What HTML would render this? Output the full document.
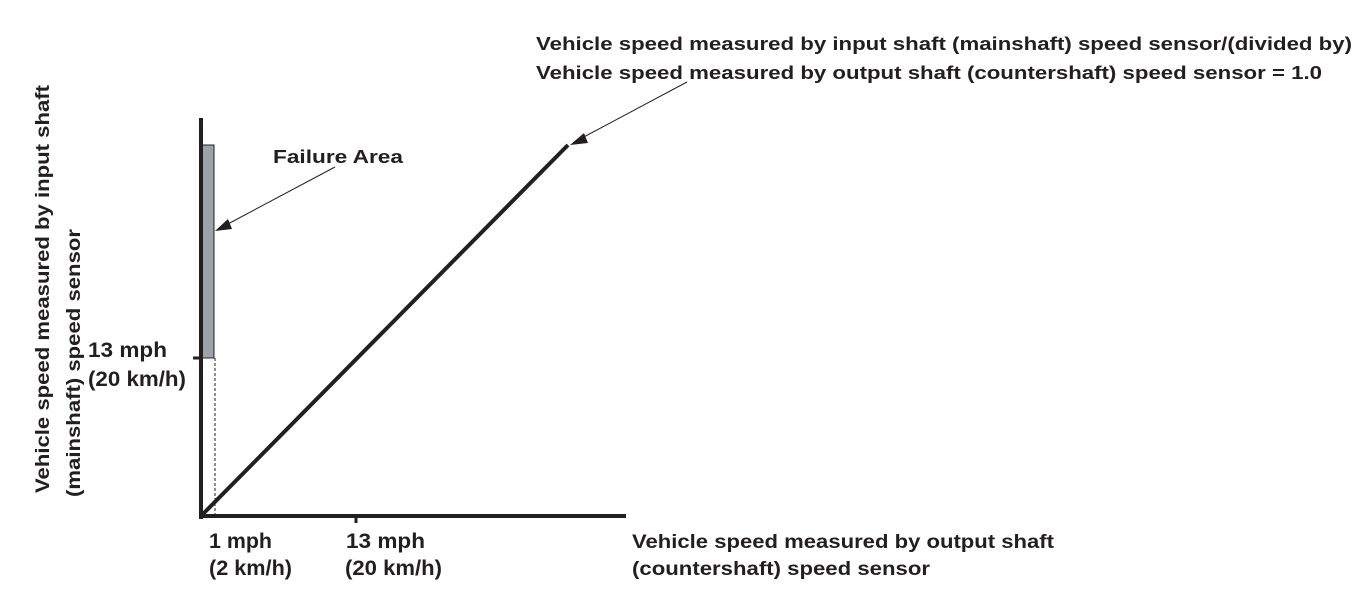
<!DOCTYPE html>
<html><head><style>html,body{margin:0;padding:0;background:#fff}</style></head>
<body>
<svg width="1364" height="596" xmlns="http://www.w3.org/2000/svg" font-family="Liberation Sans, Arial, sans-serif" font-weight="bold" fill="#231f20">
<rect x="201" y="145" width="13" height="213" fill="#9ea2a9" stroke="#231f20" stroke-width="1"/>
<line x1="215" y1="358" x2="215" y2="516" stroke="#231f20" stroke-width="1" stroke-dasharray="3,2"/>
<line x1="201" y1="118" x2="201" y2="519" stroke="#231f20" stroke-width="4"/>
<line x1="199" y1="516" x2="626" y2="516" stroke="#231f20" stroke-width="4"/>
<line x1="193" y1="358" x2="201" y2="358" stroke="#231f20" stroke-width="3"/>
<line x1="356" y1="516" x2="356" y2="523" stroke="#231f20" stroke-width="3"/>
<line x1="201" y1="516" x2="568" y2="145" stroke="#231f20" stroke-width="4"/>
<line x1="687" y1="82" x2="580" y2="139" stroke="#231f20" stroke-width="1"/>
<polygon points="570,145 584,133 588,143" fill="#231f20"/>
<line x1="335" y1="167" x2="226" y2="225" stroke="#231f20" stroke-width="1"/>
<polygon points="215,231 228,219 232,229" fill="#231f20"/>
<text x="536" y="50" font-size="18" textLength="816" lengthAdjust="spacingAndGlyphs">Vehicle speed measured by input shaft (mainshaft) speed sensor/(divided by)</text>
<text x="536" y="79" font-size="18" textLength="786" lengthAdjust="spacingAndGlyphs">Vehicle speed measured by output shaft (countershaft) speed sensor = 1.0</text>
<text x="273" y="163" font-size="18" textLength="130" lengthAdjust="spacingAndGlyphs">Failure Area</text>
<text x="88" y="357" font-size="21" textLength="79" lengthAdjust="spacingAndGlyphs">13 mph</text>
<text x="88" y="386" font-size="21" textLength="98" lengthAdjust="spacingAndGlyphs">(20 km/h)</text>
<text x="209" y="548" font-size="21" textLength="63" lengthAdjust="spacingAndGlyphs">1 mph</text>
<text x="209" y="575" font-size="21" textLength="83" lengthAdjust="spacingAndGlyphs">(2 km/h)</text>
<text x="346" y="548" font-size="21" textLength="79" lengthAdjust="spacingAndGlyphs">13 mph</text>
<text x="345" y="575" font-size="21" textLength="97" lengthAdjust="spacingAndGlyphs">(20 km/h)</text>
<text x="632" y="548" font-size="19" textLength="422" lengthAdjust="spacingAndGlyphs">Vehicle speed measured by output shaft</text>
<text x="632" y="575" font-size="19" textLength="298" lengthAdjust="spacingAndGlyphs">(countershaft) speed sensor</text>
<text transform="translate(49,493) rotate(-90)" font-size="19" textLength="408" lengthAdjust="spacingAndGlyphs">Vehicle speed measured by input shaft</text>
<text transform="translate(80,497) rotate(-90)" font-size="19" textLength="268" lengthAdjust="spacingAndGlyphs">(mainshaft) speed sensor</text>
</svg>
</body></html>
